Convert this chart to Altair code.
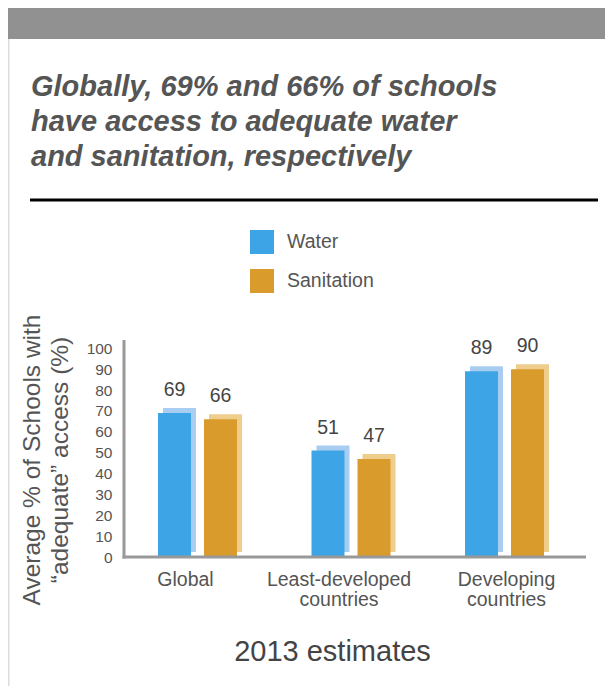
import altair as alt
import pandas as pd

# ---- data ----
categories = ["Global", "Least-developed countries", "Developing countries"]
series = ["Water", "Sanitation"]
water = [69, 51, 89]
sanitation = [66, 47, 90]
y_ticks = [0, 10, 20, 30, 40, 50, 60, 70, 80, 90, 100]
title_lines = ["Globally, 69% and 66% of schools",
               "have access to adequate water",
               "and sanitation, respectively"]
y_title_lines = ["Average % of Schools with", "\u201cadequate\u201d access (%)"]
x_title = "2013 estimates"

# ---- styles ----
front_colors = ["#3DA5E5", "#D99B2B"]
side_colors = ["#A8CDF0", "#EECD8D"]
FONT = "Liberation Sans"

rows = []
for i, c in enumerate(categories):
    rows.append({"category": c, "series": "Water", "value": water[i]})
    rows.append({"category": c, "series": "Sanitation", "value": sanitation[i]})
df = pd.DataFrame(rows)

x_axis = alt.Axis(
    domain=False, ticks=False, tickSize=0, grid=False,
    labelExpr="split(datum.value, ' ')",
    labelFontSize=19.5, labelColor="#555", labelLineHeight=20,
    labelPadding=13, labelAngle=0,
    labelOffset={"condition": {"test": "datum.value === 'Developing countries'", "value": 2}, "value": -12},
    title=x_title, titleFontSize=29, titleFontWeight="normal", titleColor="#444",
    titleX=208, titleY=103, titleBaseline="alphabetic", titleAlign="center",
)
x_enc = alt.X("category:N", sort=categories,
              scale=alt.Scale(type="band", range=[-3.25, 457.25], paddingInner=0, paddingOuter=0),
              axis=x_axis)
xo_enc = alt.XOffset("series:N", sort=series,
                     scale=alt.Scale(type="band", paddingInner=0.2826, paddingOuter=0.8098))
# the lighter "depth" face sits 5px to the right of the front face
xo_back = alt.XOffset("series:N", sort=series,
                      scale=alt.Scale(type="band", paddingInner=0.2826, paddingOuter=0.8098, align=0.567))
y_axis = alt.Axis(values=y_ticks, domain=False, ticks=False, tickSize=0, grid=False,
                  labelPadding=12, labelFontSize=15.5, labelColor="#555", title=None)
y_enc = alt.Y("value:Q", scale=alt.Scale(domain=[0, 104], nice=False, zero=True), axis=y_axis)

base = alt.Chart(df)

back = base.mark_bar(yOffset=-5).encode(
    x=x_enc, xOffset=xo_back, y=y_enc,
    color=alt.Color("series:N", sort=series,
                    scale=alt.Scale(domain=series, range=side_colors), legend=None),
)
front = base.mark_bar().encode(
    x=x_enc, xOffset=xo_enc, y=y_enc,
    color=alt.Color("series:N", sort=series,
                    scale=alt.Scale(domain=series, range=front_colors),
                    legend=alt.Legend(orient="none", legendX=126, legendY=-110, title=None,
                                      symbolType="square", symbolSize=576, symbolStrokeWidth=0,
                                      symbolOpacity=1, labelFontSize=19.5, labelColor="#555",
                                      labelOffset=13, rowPadding=15, padding=0)),
)
labels = base.mark_text(dy=-17, baseline="alphabetic", fontSize=19.5, color="#444").encode(
    x=x_enc, xOffset=xo_enc, y=y_enc, text=alt.Text("value:Q"),
)

deco = alt.Chart(pd.DataFrame({"k": [0]}))
band = deco.mark_rect(color="#919191").encode(
    x=alt.value(-116), x2=alt.value(481), y=alt.value(-332), y2=alt.value(-301))
border = deco.mark_rule(color="#dcdcdc", strokeWidth=1.5).encode(
    x=alt.value(-115.25), y=alt.value(-301), y2=alt.value(346))
title = deco.mark_text(align="left", baseline="alphabetic", fontSize=29, fontWeight="bold",
                       fontStyle="italic", color="#555", lineHeight=35).encode(
    x=alt.value(-93), y=alt.value(-244), text=alt.value(title_lines))
hrule = deco.mark_rule(color="#000000", strokeWidth=3).encode(
    x=alt.value(-94), x2=alt.value(474), y=alt.value(-140))
yline = deco.mark_rule(color="#999999", strokeWidth=3).encode(
    x=alt.value(0), y=alt.value(0), y2=alt.value(218.5))
xline = deco.mark_rule(color="#999999", strokeWidth=3).encode(
    x=alt.value(-1.5), x2=alt.value(462), y=alt.value(217))
ytitle = deco.mark_text(angle=270, align="center", baseline="alphabetic", fontSize=24.5,
                        color="#555", lineHeight=28).encode(
    x=alt.value(-84), y=alt.value(120), text=alt.value(y_title_lines))

chart = alt.layer(band, border, title, hrule, back, front, labels, yline, xline, ytitle).resolve_scale(
    color="independent", xOffset="independent"
).properties(
    width=462, height=217,
    autosize=alt.AutoSizeParams(type="none"),
    padding={"left": 116, "top": 332, "right": 19, "bottom": 129},
).configure(font=FONT).configure_view(strokeWidth=0)

chart.save("out.html", embed_options={"renderer": "svg", "actions": False})
